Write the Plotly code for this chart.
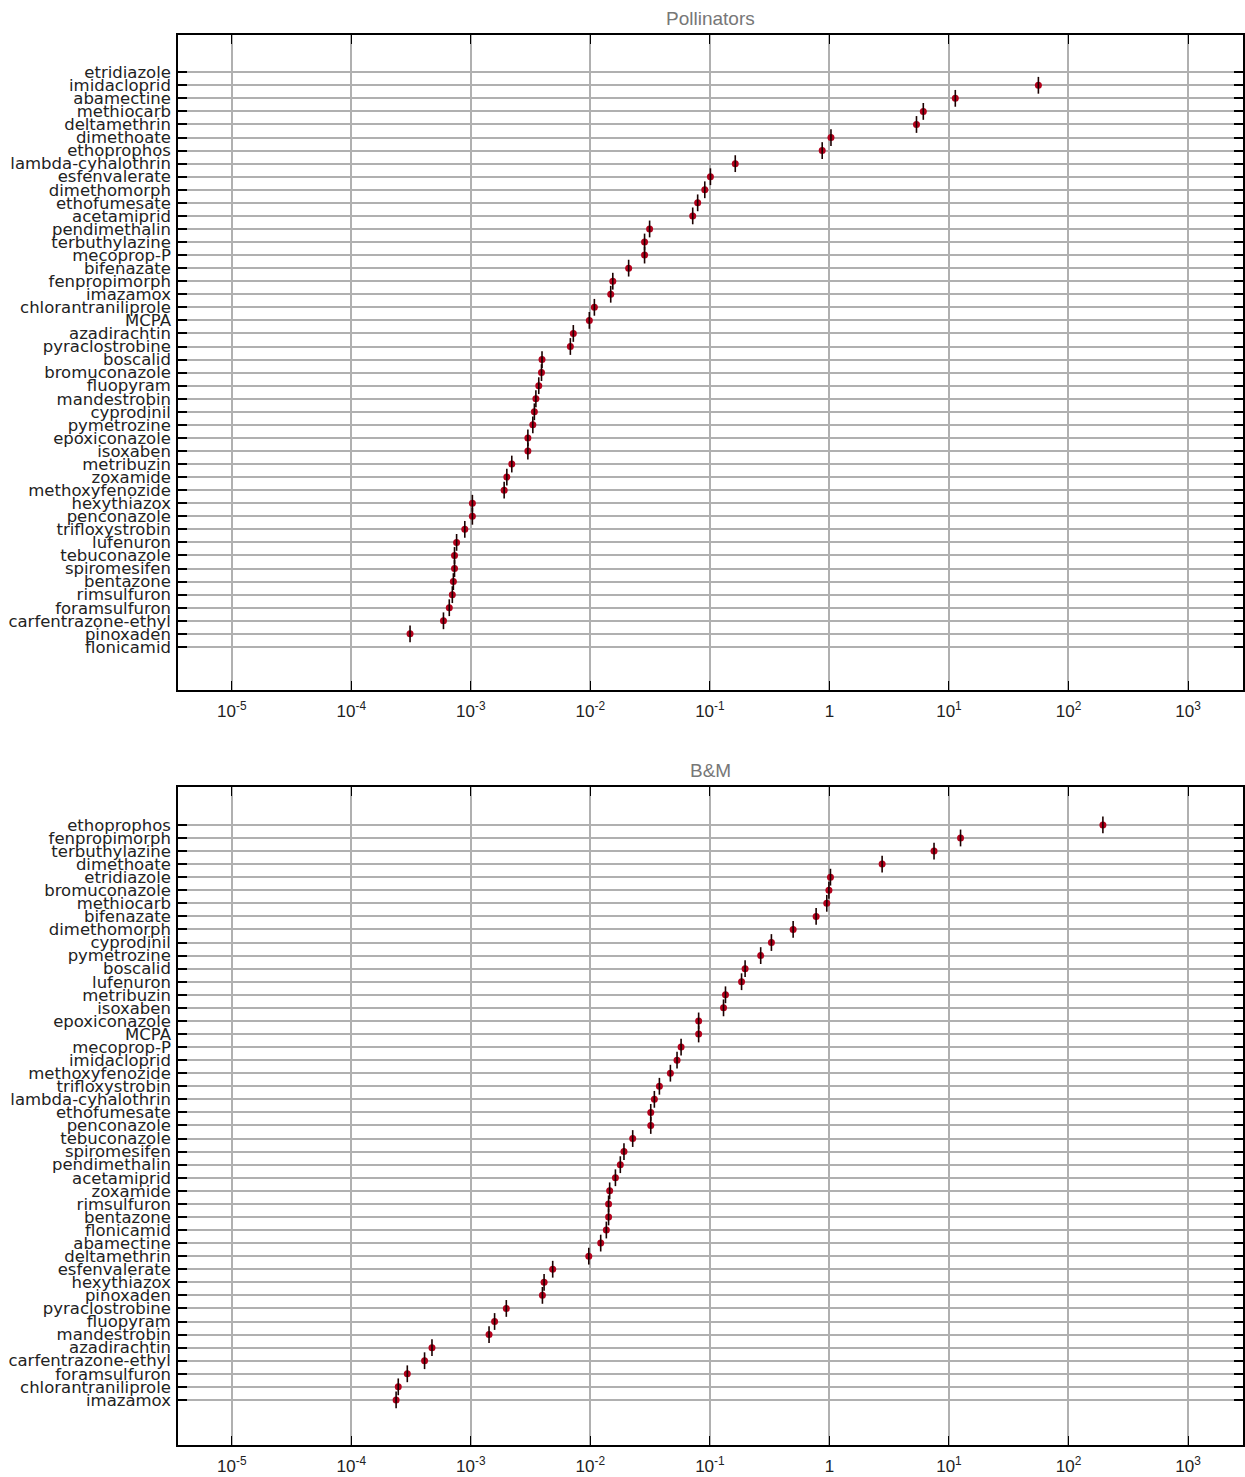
import plotly.graph_objects as go
from plotly.subplots import make_subplots

# ---- data ----
poll_names = ["etridiazole", "imidacloprid", "abamectine", "methiocarb", "deltamethrin", "dimethoate",
              "ethoprophos", "lambda-cyhalothrin", "esfenvalerate", "dimethomorph", "ethofumesate",
              "acetamiprid", "pendimethalin", "terbuthylazine", "mecoprop-P", "bifenazate",
              "fenpropimorph", "imazamox", "chlorantraniliprole", "MCPA", "azadirachtin",
              "pyraclostrobine", "boscalid", "bromuconazole", "fluopyram", "mandestrobin",
              "cyprodinil", "pymetrozine", "epoxiconazole", "isoxaben", "metribuzin", "zoxamide",
              "methoxyfenozide", "hexythiazox", "penconazole", "trifloxystrobin", "lufenuron",
              "tebuconazole", "spiromesifen", "bentazone", "rimsulfuron", "foramsulfuron",
              "carfentrazone-ethyl", "pinoxaden", "flonicamid"]
poll_values = [None, 56, 11.3, 6.1, 5.35, 1.03,
               0.87, 0.163, 0.101, 0.0906, 0.079,
               0.0718, 0.0313, 0.0284, 0.0284, 0.0209,
               0.0154, 0.0148, 0.0108, 0.0098, 0.0072,
               0.0068, 0.00394, 0.0039, 0.0037, 0.0035,
               0.0034, 0.0033, 0.0030, 0.0030, 0.0022, 0.0020,
               0.0019, 0.00103, 0.00103, 0.00089, 0.00076,
               0.00073, 0.00073, 0.000714, 0.0007, 0.00066,
               0.00059, 0.00031, None]

bm_names = ["ethoprophos", "fenpropimorph", "terbuthylazine", "dimethoate", "etridiazole",
            "bromuconazole", "methiocarb", "bifenazate", "dimethomorph", "cyprodinil", "pymetrozine",
            "boscalid", "lufenuron", "metribuzin", "isoxaben", "epoxiconazole", "MCPA", "mecoprop-P",
            "imidacloprid", "methoxyfenozide", "trifloxystrobin", "lambda-cyhalothrin", "ethofumesate",
            "penconazole", "tebuconazole", "spiromesifen", "pendimethalin", "acetamiprid", "zoxamide",
            "rimsulfuron", "bentazone", "flonicamid", "abamectine", "deltamethrin", "esfenvalerate",
            "hexythiazox", "pinoxaden", "pyraclostrobine", "fluopyram", "mandestrobin", "azadirachtin",
            "carfentrazone-ethyl", "foramsulfuron", "chlorantraniliprole", "imazamox"]
bm_values = [194, 12.5, 7.5, 2.76, 1.02,
             0.99, 0.95, 0.774, 0.497, 0.327, 0.266,
             0.197, 0.184, 0.135, 0.130, 0.0805, 0.0805, 0.0574,
             0.0531, 0.0467, 0.0378, 0.0343, 0.032,
             0.032, 0.0226, 0.0191, 0.0178, 0.0162, 0.0145,
             0.0142, 0.0142, 0.0136, 0.0122, 0.0097, 0.00484,
             0.0041, 0.00397, 0.00198, 0.00158, 0.00142, 0.000473,
             0.00041, 0.000294, 0.000247, 0.000237]

panel_titles = ["Pollinators", "B&M"]
x_tickvals = [1e-5, 1e-4, 1e-3, 1e-2, 1e-1, 1, 10, 100, 1000]
x_ticktext = ["10<sup>-5</sup>", "10<sup>-4</sup>", "10<sup>-3</sup>", "10<sup>-2</sup>",
              "10<sup>-1</sup>", "1", "10<sup>1</sup>", "10<sup>2</sup>", "10<sup>3</sup>"]

# ---- figure ----
fig = make_subplots(rows=2, cols=1, subplot_titles=panel_titles, vertical_spacing=0.07)

panels = [(poll_names, poll_values), (bm_names, bm_values)]
for i, (names, vals) in enumerate(panels, start=1):
    fig.add_trace(go.Scatter(x=vals, y=names, mode="markers",
                             marker=dict(symbol="circle", size=7, color="#b3001b"),
                             showlegend=False, hoverinfo="x+y"), row=i, col=1)
    fig.add_trace(go.Scatter(x=vals, y=names, mode="markers",
                             marker=dict(symbol="line-ns", size=12,
                                         line=dict(color="#1a0000", width=1.6)),
                             showlegend=False, hoverinfo="skip"), row=i, col=1)

W, H = 1245, 1477
top_px, bot_px = 35, 1445          # page pixels of plot area
left_px, right_px = 178, 1243
plot_h = bot_px - top_px
dom1 = [(bot_px - 690) / plot_h, 1.0]
dom2 = [0.0, (bot_px - 787) / plot_h]

fig.update_layout(
    width=W, height=H,
    margin=dict(l=left_px, r=W - right_px, t=top_px, b=H - bot_px, autoexpand=False),
    paper_bgcolor="white", plot_bgcolor="white",
    font=dict(family="Liberation Sans, Arial, sans-serif", color="#222"),
)

axis_common = dict(showline=True, linecolor="black", linewidth=1.5, mirror="ticks",
                   showgrid=True, gridcolor="#b0b0b0", gridwidth=1.5,
                   ticks="inside", tickcolor="black", zeroline=False, automargin=False)

for i, (names, vals) in enumerate(panels, start=1):
    n = len(names)
    fig.update_xaxes(type="log", range=[-5.45, 3.46], tickmode="array",
                     tickvals=x_tickvals, ticktext=x_ticktext, ticklen=9, tickwidth=1,
                     tickfont=dict(size=17, family="Liberation Sans, Arial", color="#222"),
                     ticklabelstandoff=5,
                     row=i, col=1, **axis_common)
    rng = [n - 1 + 3.3, -2.85] if i == 1 else [n - 1 + 3.45, -2.9]
    fig.update_yaxes(type="category", categoryorder="array", categoryarray=names,
                     tickmode="array", tickvals=names, ticktext=names,
                     range=rng, ticklen=9, tickwidth=1.5, ticklabelstandoff=2,
                     tickfont=dict(size=16.5, family="DejaVu Sans", color="#222"),
                     row=i, col=1, **axis_common)

fig.layout.yaxis.domain = dom1
fig.layout.yaxis2.domain = dom2

# subplot titles
for ann, dom in zip(fig.layout.annotations, [dom1, dom2]):
    ann.font = dict(size=19, color="#777", family="Liberation Sans, Arial")
    ann.y = dom[1]
    ann.yshift = 4

fig.write_html("out.html", config={"displayModeBar": False},
               post_script="document.body.style.margin='0';document.body.style.overflow='hidden';")
